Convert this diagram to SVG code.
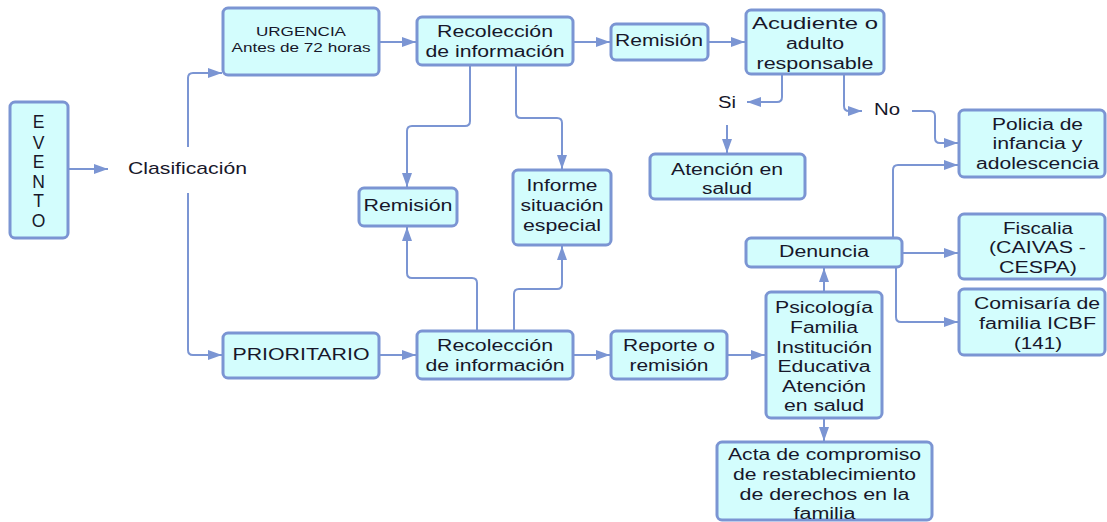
<svg xmlns="http://www.w3.org/2000/svg" width="1107" height="522" viewBox="0 0 1107 522">
<style>
.b{fill:#d3fdfd;stroke:#7b95d3;stroke-width:3}
.c{fill:none;stroke:#7b95d3;stroke-width:2}
text{font-family:"Liberation Sans",Arial,sans-serif;font-size:16px;fill:#17172a;text-anchor:middle}
.s{font-size:13px}
.k{font-size:17px}
.e{font-size:17.5px}
</style>
<defs>
<marker id="a" markerUnits="userSpaceOnUse" markerWidth="15" markerHeight="11" refX="14" refY="5" orient="auto">
<path d="M0,0 L14,5 L0,10 z" fill="#7b95d3"/>
</marker>
</defs>
<g id="connectors" class="c" marker-end="url(#a)">
<path d="M68,169 H108"/>
<path d="M188,147 V78 Q188,73 193,73 H222"/>
<path d="M188,193 V350 Q188,355 193,355 H222"/>
<path d="M379,42 H416"/>
<path d="M573,42 H610"/>
<path d="M708,42 H745"/>
<path d="M782,74 V97 Q782,102 777,102 H747"/>
<path d="M727,125 V153"/>
<path d="M844,74 V106 Q844,111 849,111 H862"/>
<path d="M912,111 H930 Q935,111 935,116 V138 Q935,143 940,143 H958"/>
<path d="M893,238 V170 Q893,165 898,165 H958"/>
<path d="M902,253 H958"/>
<path d="M896,267 V317 Q896,322 901,322 H958"/>
<path d="M824,292 V268"/>
<path d="M824,418 V441"/>
<path d="M727,355 H765"/>
<path d="M379,355 H416"/>
<path d="M573,355 H610"/>
<path d="M470,65 V121 Q470,126 465,126 H412 Q407,126 407,131 V187"/>
<path d="M516,65 V113 Q516,118 521,118 H557 Q562,118 562,123 V169"/>
<path d="M477,331 V283 Q477,278 472,278 H412 Q407,278 407,273 V227"/>
<path d="M514,331 V294 Q514,289 519,289 H557 Q562,289 562,284 V246"/>
</g>
<g id="evento"><rect class="b" x="10" y="102" width="58" height="136" rx="5"/>
<text class="e" x="38.5" y="128">E</text><text class="e" x="38.5" y="148.5">V</text><text class="e" x="38.5" y="168">E</text><text class="e" x="38.5" y="187.5">N</text><text class="e" x="38.5" y="207">T</text><text class="e" x="38.5" y="226.5">O</text></g>
<g id="clasificacion"><text class="k" x="187.5" y="174" textLength="119" lengthAdjust="spacingAndGlyphs">Clasificación</text></g>
<g id="urgencia"><rect class="b" x="223" y="8" width="156" height="67" rx="5"/>
<text class="s" x="301" y="35.5" textLength="90" lengthAdjust="spacingAndGlyphs">URGENCIA</text>
<text class="s" x="301" y="51.5" textLength="139" lengthAdjust="spacingAndGlyphs">Antes de 72 horas</text></g>
<g id="prioritario"><rect class="b" x="223" y="333" width="156" height="45" rx="5"/>
<text x="301" y="359.5" textLength="137" lengthAdjust="spacingAndGlyphs">PRIORITARIO</text></g>
<g id="recoleccion1"><rect class="b" x="417" y="17" width="156" height="48" rx="5"/>
<text x="495" y="37" textLength="116" lengthAdjust="spacingAndGlyphs">Recolección</text>
<text x="495" y="57" textLength="139" lengthAdjust="spacingAndGlyphs">de información</text></g>
<g id="remision1"><rect class="b" x="611" y="24" width="97" height="36" rx="5"/>
<text x="659" y="45.5" textLength="88" lengthAdjust="spacingAndGlyphs">Remisión</text></g>
<g id="acudiente"><rect class="b" x="746" y="10" width="138" height="64" rx="5"/>
<text x="815" y="28.5" textLength="126" lengthAdjust="spacingAndGlyphs">Acudiente o</text>
<text x="815" y="49" textLength="58" lengthAdjust="spacingAndGlyphs">adulto</text>
<text x="815" y="68.5" textLength="117" lengthAdjust="spacingAndGlyphs">responsable</text></g>
<g id="si"><text x="727" y="107.5" textLength="18" lengthAdjust="spacingAndGlyphs">Si</text></g>
<g id="no"><text x="887" y="115" textLength="26" lengthAdjust="spacingAndGlyphs">No</text></g>
<g id="atencion"><rect class="b" x="650" y="154" width="155" height="45" rx="5"/>
<text x="727" y="174.5" textLength="112" lengthAdjust="spacingAndGlyphs">Atención en</text>
<text x="727" y="194" textLength="50" lengthAdjust="spacingAndGlyphs">salud</text></g>
<g id="remision2"><rect class="b" x="359" y="188" width="98" height="38" rx="5"/>
<text x="408" y="211" textLength="89" lengthAdjust="spacingAndGlyphs">Remisión</text></g>
<g id="informe"><rect class="b" x="513" y="170" width="98" height="75" rx="5"/>
<text x="562" y="191" textLength="71" lengthAdjust="spacingAndGlyphs">Informe</text>
<text x="562" y="211" textLength="83" lengthAdjust="spacingAndGlyphs">situación</text>
<text x="562" y="230.5" textLength="78" lengthAdjust="spacingAndGlyphs">especial</text></g>
<g id="policia"><rect class="b" x="959" y="110" width="146" height="67" rx="5"/>
<text x="1037.5" y="129.5" textLength="91" lengthAdjust="spacingAndGlyphs">Policia de</text>
<text x="1037.5" y="149" textLength="90" lengthAdjust="spacingAndGlyphs">infancia y</text>
<text x="1037.5" y="168.5" textLength="123" lengthAdjust="spacingAndGlyphs">adolescencia</text></g>
<g id="fiscalia"><rect class="b" x="959" y="214" width="146" height="65" rx="5"/>
<text x="1038" y="233.5" textLength="70" lengthAdjust="spacingAndGlyphs">Fiscalia</text>
<text x="1037.5" y="253" textLength="97" lengthAdjust="spacingAndGlyphs">(CAIVAS -</text>
<text x="1038" y="272.5" textLength="78" lengthAdjust="spacingAndGlyphs">CESPA)</text></g>
<g id="comisaria"><rect class="b" x="959" y="289" width="146" height="66" rx="5"/>
<text x="1037" y="308.5" textLength="126" lengthAdjust="spacingAndGlyphs">Comisaría de</text>
<text x="1037.5" y="328.5" textLength="117" lengthAdjust="spacingAndGlyphs">familia ICBF</text>
<text x="1038" y="348.5" textLength="48" lengthAdjust="spacingAndGlyphs">(141)</text></g>
<g id="denuncia"><rect class="b" x="746" y="238" width="156" height="29" rx="5"/>
<text x="824" y="257" textLength="90" lengthAdjust="spacingAndGlyphs">Denuncia</text></g>
<g id="psicologia"><rect class="b" x="766" y="292" width="116" height="126" rx="5"/>
<text x="824" y="312.5" textLength="98" lengthAdjust="spacingAndGlyphs">Psicología</text>
<text x="824" y="332.5" textLength="68" lengthAdjust="spacingAndGlyphs">Familia</text>
<text x="824" y="352.5" textLength="96" lengthAdjust="spacingAndGlyphs">Institución</text>
<text x="824" y="372" textLength="93" lengthAdjust="spacingAndGlyphs">Educativa</text>
<text x="824" y="391.5" textLength="84" lengthAdjust="spacingAndGlyphs">Atención</text>
<text x="824" y="411" textLength="80" lengthAdjust="spacingAndGlyphs">en salud</text></g>
<g id="acta"><rect class="b" x="717" y="442" width="215" height="78" rx="5"/>
<text x="824.5" y="460" textLength="193" lengthAdjust="spacingAndGlyphs">Acta de compromiso</text>
<text x="824.5" y="480" textLength="183" lengthAdjust="spacingAndGlyphs">de restablecimiento</text>
<text x="824.5" y="500" textLength="170" lengthAdjust="spacingAndGlyphs">de derechos en la</text>
<text x="824.5" y="519" textLength="62" lengthAdjust="spacingAndGlyphs">familia</text></g>
<g id="reporte"><rect class="b" x="611" y="331" width="116" height="48" rx="5"/>
<text x="669" y="351" textLength="92" lengthAdjust="spacingAndGlyphs">Reporte o</text>
<text x="669" y="370.5" textLength="79" lengthAdjust="spacingAndGlyphs">remisión</text></g>
<g id="recoleccion2"><rect class="b" x="417" y="331" width="156" height="48" rx="5"/>
<text x="495" y="351" textLength="116" lengthAdjust="spacingAndGlyphs">Recolección</text>
<text x="495" y="370.5" textLength="139" lengthAdjust="spacingAndGlyphs">de información</text></g>
</svg>
